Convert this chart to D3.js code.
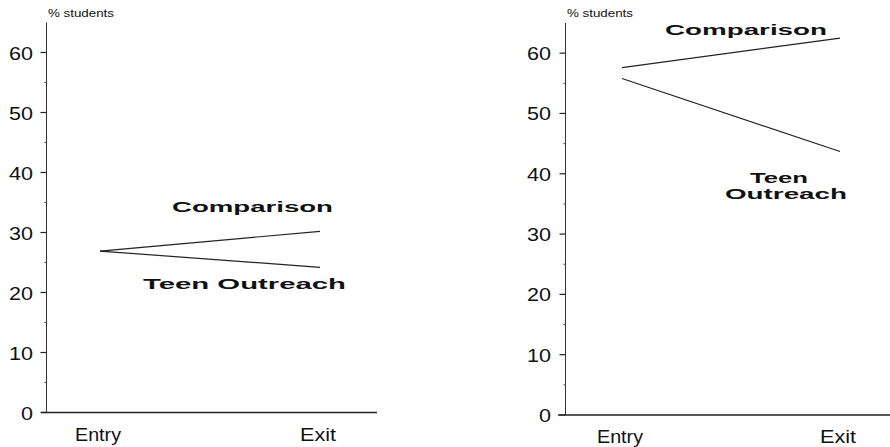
<!DOCTYPE html>
<html>
<head>
<meta charset="utf-8">
<script src="https://cdn.jsdelivr.net/npm/d3@7"></script>
<style>
  html, body { margin: 0; padding: 0; background: #fff; }
  svg { display: block; }
  text { font-family: "Liberation Sans", Arial, sans-serif; fill: #111; }
</style>
</head>
<body>
<svg id="chart" width="890" height="447"></svg>
<script>
// ---- Data ----
const categories = ["Entry", "Exit"];
const yTicks = [0, 10, 20, 30, 40, 50, 60];
const yMinorTicks = [5, 15, 25, 35, 45, 55];
const seriesNames = ["Comparison", "Teen Outreach"];
// Panel 1
const panel1Comparison = [26.9, 30.2];
const panel1TeenOutreach = [26.9, 24.2];
// Panel 2
const panel2Comparison = [57.6, 62.5];
const panel2TeenOutreach = [55.8, 43.7];

const svg = d3.select("#chart");

const panels = [
  {
    axisX: 46.5, y0: 412.5, y65: 22.5, xAxisStart: 41, xAxisEnd: 377,
    xRange: [100, 320], unitsLabelX: 48, tickLabelX: 33,
    series: [panel1Comparison, panel1TeenOutreach],
    labels: [
      { lines: ["Comparison"], x: [172], y: [212], w: [161] },
      { lines: ["Teen Outreach"], x: [143], y: [289], w: [203] }
    ]
  },
  {
    axisX: 565.5, y0: 415, y65: 23, xAxisStart: 558, xAxisEnd: 890,
    xRange: [622, 840], unitsLabelX: 567, tickLabelX: 551,
    series: [panel2Comparison, panel2TeenOutreach],
    labels: [
      { lines: ["Comparison"], x: [665], y: [35], w: [162] },
      { lines: ["Teen", "Outreach"], x: [750, 725], y: [183, 199], w: [58, 122] }
    ]
  }
];

const catWidth = { "Entry": 46, "Exit": 36 };

panels.forEach(p => {
  const g = svg.append("g");
  const y = d3.scaleLinear().domain([0, 65]).range([p.y0, p.y65]);
  const x = d3.scalePoint().domain(categories).range(p.xRange);

  // y axis line
  g.append("line")
    .attr("x1", p.axisX).attr("x2", p.axisX)
    .attr("y1", y(65)).attr("y2", y(0))
    .attr("stroke", "#333").attr("stroke-width", 1);

  // major ticks
  g.selectAll(".maj").data(yTicks).join("line")
    .attr("x1", p.axisX - 6).attr("x2", p.axisX)
    .attr("y1", d => y(d)).attr("y2", d => y(d))
    .attr("stroke", "#222").attr("stroke-width", 1.2);
  // minor ticks
  g.selectAll(".min").data(yMinorTicks).join("line")
    .attr("x1", p.axisX - 2).attr("x2", p.axisX)
    .attr("y1", d => y(d)).attr("y2", d => y(d))
    .attr("stroke", "#444").attr("stroke-width", 1);
  // tick labels
  g.selectAll(".tl").data(yTicks).join("text")
    .attr("x", p.tickLabelX).attr("y", d => y(d) + 7)
    .attr("text-anchor", "end")
    .attr("font-size", 18)
    .attr("textLength", d => String(d).length * 12)
    .attr("lengthAdjust", "spacingAndGlyphs")
    .text(d => d);

  // units label
  g.append("text")
    .attr("x", p.unitsLabelX).attr("y", 16.5)
    .attr("font-size", 11)
    .attr("textLength", 66).attr("lengthAdjust", "spacingAndGlyphs")
    .text("% students");

  // x axis line
  g.append("line")
    .attr("x1", p.xAxisStart).attr("x2", p.xAxisEnd)
    .attr("y1", y(0)).attr("y2", y(0))
    .attr("stroke", "#222").attr("stroke-width", 1.6);

  // x labels
  g.selectAll(".xl").data(categories).join("text")
    .attr("x", d => x(d) - 2).attr("y", y(0) + 28)
    .attr("text-anchor", "middle")
    .attr("font-size", 19)
    .attr("textLength", d => catWidth[d])
    .attr("lengthAdjust", "spacingAndGlyphs")
    .text(d => d);

  // lines
  const line = d3.line().x((d, i) => x(categories[i])).y(d => y(d));
  p.series.forEach(s => {
    g.append("path")
      .datum(s)
      .attr("d", line)
      .attr("fill", "none")
      .attr("stroke", "#222")
      .attr("stroke-width", 1.2);
  });

  // series labels
  p.labels.forEach(l => {
    l.lines.forEach((t, i) => {
      g.append("text")
        .attr("x", l.x[i]).attr("y", l.y[i])
        .attr("font-size", 14)
        .attr("font-weight", "bold")
        .attr("fill", "#1a1a1a")
        .attr("textLength", l.w[i]).attr("lengthAdjust", "spacingAndGlyphs")
        .text(t);
    });
  });
});
</script>
</body>
</html>
